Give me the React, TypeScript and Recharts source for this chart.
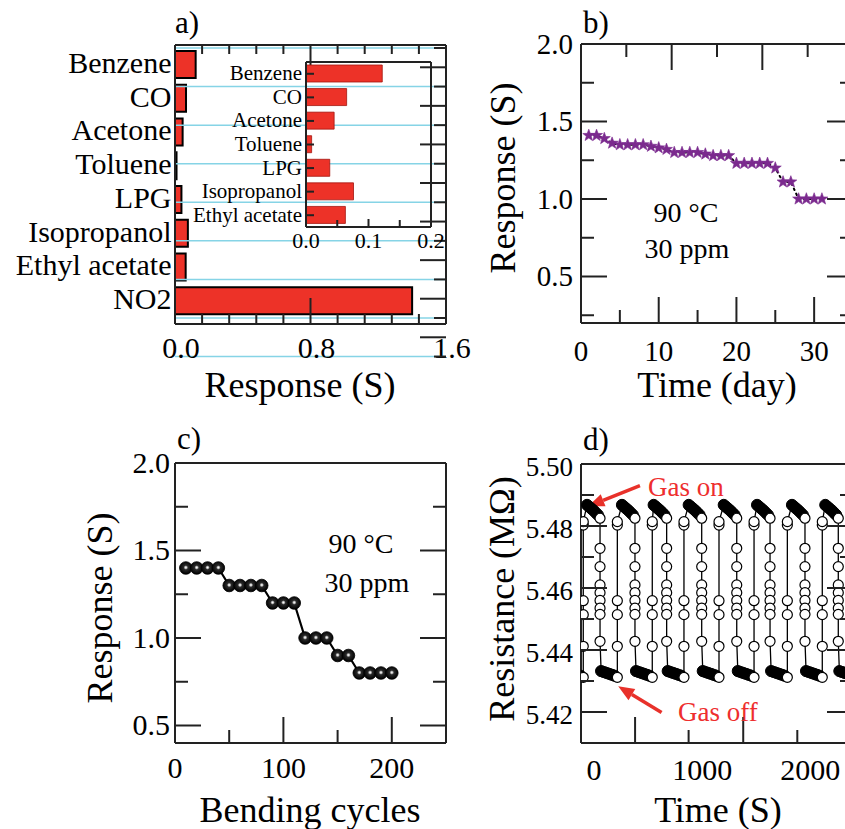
import React from 'react';
import {
  BarChart, Bar, LineChart, Line, ScatterChart, Scatter,
  XAxis, YAxis, ReferenceLine,
} from 'recharts';

const FONT = '"Liberation Serif", "Times New Roman", serif';
const FRAME = '#222';
const RED = '#ed3228';
const CYAN = '#86d4e6';
const PURPLE = '#7b2a8e';
const MAJOR = 26;
const MINOR = 13;

// a) selectivity at 90 C
const gases = ['Benzene', 'CO', 'Acetone', 'Toluene', 'LPG', 'Isopropanol', 'Ethyl acetate', 'NO2'];
const gasResponse = [0.122, 0.065, 0.045, 0.009, 0.038, 0.076, 0.063, 1.4];
const aTicks = [0, 0.16, 0.32, 0.48, 0.64, 0.8, 0.96, 1.12, 1.28, 1.44, 1.6];
const aMajor = [0, 0.8, 1.6];
const bandEdges = [0, 1, 2, 3, 4, 5, 6, 7, 8];
const bandTicks = [0, 0.5, 1, 1.5, 2, 2.5, 3, 3.5, 4, 4.5, 5, 5.5, 6, 6.5, 7, 7.5, 8];
const insetTicks = [0, 0.05, 0.1, 0.15, 0.2];
const insetLabels = [0, 0.1, 0.2];

// b) long-term stability
const days = [1, 2, 3, 4, 5, 6, 7, 8, 9, 10, 11, 12, 13, 14, 15, 16, 17, 18, 19, 20, 21, 22, 23, 24, 25, 26, 27, 28, 29, 30, 31];
const dayResponse = [1.41, 1.41, 1.39, 1.36, 1.35, 1.35, 1.35, 1.35, 1.34, 1.33, 1.32, 1.3, 1.3, 1.3, 1.3, 1.29, 1.28, 1.28, 1.28, 1.23, 1.23, 1.23, 1.23, 1.23, 1.2, 1.11, 1.11, 1.0, 1.0, 1.0, 1.0];
const bXTicks = [0, 5, 10, 15, 20, 25, 30, 35];
const bXMajor = [10, 20, 30];
const bXLabels = [0, 10, 20, 30];
const respTicks = [0.25, 0.5, 0.75, 1, 1.25, 1.5, 1.75, 2];
const respMajor = [0.5, 1, 1.5, 2];

// c) bending test
const bendCycles = [10, 20, 30, 40, 50, 60, 70, 80, 90, 100, 110, 120, 130, 140, 150, 160, 170, 180, 190, 200];
const bendResponse = [1.4, 1.4, 1.4, 1.4, 1.3, 1.3, 1.3, 1.3, 1.2, 1.2, 1.2, 1.0, 1.0, 1.0, 0.9, 0.9, 0.8, 0.8, 0.8, 0.8];
const cXTicks = [0, 50, 100, 150, 200, 250];
const cXMajor = [100, 200];
const cXLabels = [0, 100, 200];

// d) repeated gas on / off cycles (time of each cycle's switch, s)
const dCycleT = [-259, 56, 379, 672, 996, 1320, 1628, 1951, 2259];
const dTopDt = [-120, -100, -80, -60, -40, -20];
const dTopR = [5.4868, 5.4862, 5.4856, 5.485, 5.4843, 5.4836];
const dFallR = [5.4825, 5.4728, 5.4669, 5.461, 5.4585, 5.456, 5.4535, 5.4515, 5.4428];
const dBotDt = [10, 35, 60, 85, 110, 135];
const dBotR = [5.4332, 5.4329, 5.4326, 5.4323, 5.432, 5.4317];
const dRiseDt = 160;
const dRiseR = [5.4312, 5.4412, 5.4514, 5.4559, 5.4803, 5.4814];
const dXTicks = [0, 380, 875, 1000, 1380, 1880, 2000, 2380];
const dXMajor = [380, 1380, 2380];
const dXMinor = [875, 1880];
const dXLabels = [0, 1000, 2000];
const dYTicks = [5.42, 5.43, 5.44, 5.45, 5.46, 5.47, 5.48, 5.49, 5.5];
const dYMajor = [5.42, 5.44, 5.46, 5.48, 5.5];

const aData = gases.map((gas, i) => ({ gas, resp: gasResponse[i] }));
const insetData = aData.slice(0, 7);
const bData = days.map((day, i) => ({ day, s: dayResponse[i] }));
const cData = bendCycles.map((n, i) => ({ n, s: bendResponse[i] }));

type Pt = { t: number; r: number };
const dPath: Pt[] = [];
const dBlack: Pt[] = [];
const dWhite: Pt[] = [];
dCycleT.forEach((T) => {
  dTopDt.forEach((dt, i) => { const p = { t: T + dt, r: dTopR[i] }; dPath.push(p); dBlack.push(p); });
  dFallR.forEach((r) => { const p = { t: T, r }; dPath.push(p); dWhite.push(p); });
  dBotDt.forEach((dt, i) => { const p = { t: T + dt, r: dBotR[i] }; dPath.push(p); dBlack.push(p); });
  dRiseR.forEach((r) => { const p = { t: T + dRiseDt, r }; dPath.push(p); dWhite.push(p); });
});

const isIn = (list: number[], v: number) => list.some((u) => Math.abs(u - v) < 1e-6);
const except = (all: number[], drop: number[]) => all.filter((v) => !isIn(drop, v));
const lenOf = (major: number[], minor: number[], majLen = MAJOR, minLen = MINOR) => (v: number) =>
  isIn(major, v) ? majLen : isIn(minor, v) ? minLen : 0;
const fixed = (digits: number, list: number[]) => (v: number) => (isIn(list, v) ? v.toFixed(digits) : null);

interface TickCfg {
  side: 'bottom' | 'top' | 'left' | 'right';
  len?: (v: any) => number;
  label?: (v: any) => string | null;
  fontSize?: number;
  offset?: number;
  shift?: number;
}

// inward tick marks plus the label, like the original plotting program
const makeTick = (cfg: TickCfg) => (props: any) => {
  const { x, y, payload, index } = props;
  const v = payload?.value;
  const len = cfg.len ? cfg.len(v) : 0;
  const text = cfg.label ? cfg.label(v) : null;
  const fs = cfg.fontSize ?? 29;
  const off = cfg.offset ?? 0;
  const sh = cfg.shift ?? 0;
  let tick: React.ReactNode = null;
  let lab: React.ReactNode = null;
  const ts = { fontFamily: FONT, fontSize: fs, fill: '#000', stroke: 'none' };
  if (cfg.side === 'bottom') {
    if (len) tick = <line x1={x} x2={x} y1={y} y2={y - len} />;
    if (text != null) lab = <text x={x + sh} y={y + off} textAnchor="middle" {...ts}>{text}</text>;
  } else if (cfg.side === 'top') {
    if (len) tick = <line x1={x} x2={x} y1={y} y2={y + len} />;
  } else if (cfg.side === 'left') {
    if (len) tick = <line x1={x} x2={x + len} y1={y} y2={y} />;
    if (text != null) lab = <text x={x - off} y={y + sh} textAnchor="end" {...ts}>{text}</text>;
  } else {
    if (len) tick = <line x1={x} x2={x - len} y1={y} y2={y} />;
  }
  return (
    <g key={`t-${index}`} stroke={FRAME} strokeWidth={2}>
      {tick}
      {lab}
    </g>
  );
};

const frameLine = { stroke: FRAME, strokeWidth: 2 };
const axisBase = { tickSize: 0, tickMargin: 0, tickLine: false, interval: 0 as const, allowDataOverflow: true, axisLine: frameLine };

const StarDot = (p: any) => {
  const { cx, cy, index } = p;
  if (cx == null || cy == null) return <g key={`s-${index}`} />;
  const pts: string[] = [];
  for (let k = 0; k < 10; k++) {
    const rad = k % 2 === 0 ? 6.3 : 2.6;
    const a = -Math.PI / 2 + (k * Math.PI) / 5;
    pts.push(`${cx + rad * Math.cos(a)},${cy + rad * Math.sin(a)}`);
  }
  return <polygon key={`s-${index}`} points={pts.join(' ')} fill={PURPLE} stroke={PURPLE} strokeWidth={0.6} />;
};

const BallDot = (p: any) => {
  const { cx, cy, index } = p;
  if (cx == null || cy == null) return <g key={`b-${index}`} />;
  return <circle key={`b-${index}`} cx={cx} cy={cy} r={6.3} fill="url(#ballGrad)" stroke="#000" strokeWidth={0.8} />;
};

const BlackDot = (p: any) => <circle cx={p.cx} cy={p.cy} r={5.6} fill="#000" stroke="#000" strokeWidth={1} />;
const WhiteDot = (p: any) => <circle cx={p.cx} cy={p.cy} r={5} fill="#fff" stroke="#000" strokeWidth={1.2} />;
const NoDot = () => <g />;

const Arrow = (p: any) => {
  const { x1, y1, x2, y2 } = p;
  const ang = Math.atan2(y2 - y1, x2 - x1);
  const L = 16;
  const W = 6.5;
  const bx = x2 - L * Math.cos(ang);
  const by = y2 - L * Math.sin(ang);
  const px = -Math.sin(ang) * W;
  const py = Math.cos(ang) * W;
  return (
    <g>
      <line x1={x1} y1={y1} x2={bx} y2={by} stroke="#e8312a" strokeWidth={3.5} />
      <polygon points={`${x2},${y2} ${bx + px},${by + py} ${bx - px},${by - py}`} fill="#e8312a" />
    </g>
  );
};

function PanelA() {
  return (
    <BarChart layout="vertical" width={490} height={400} data={aData} margin={{ top: 44, right: 43, bottom: 75, left: 174 }}>
      <YAxis yAxisId="grid" type="number" domain={[0, 8]} allowDataOverflow hide padding={{ top: 3, bottom: 6 }} />
      {bandEdges.map((v) => (
        <ReferenceLine key={`g-${v}`} yAxisId="grid" y={v} stroke={CYAN} strokeWidth={1.5} ifOverflow="visible" />
      ))}
      <Bar yAxisId="cat" dataKey="resp" barSize={27} fill={RED} stroke="#000" strokeWidth={2} isAnimationActive={false} />
      <XAxis type="number" domain={[0, 1.6]} ticks={aTicks} height={1} {...axisBase}
        tick={makeTick({ side: 'bottom', len: lenOf(aMajor, except(aTicks, aMajor), MAJOR, 10), label: fixed(1, aMajor), fontSize: 30, offset: 34, shift: 6 })} />
      <XAxis xAxisId="top" orientation="top" type="number" domain={[0, 1.6]} ticks={aTicks} height={1} {...axisBase}
        tick={makeTick({ side: 'top', len: lenOf(aMajor, except(aTicks, aMajor), MAJOR, 9) })} />
      <YAxis yAxisId="cat" type="category" dataKey="gas" width={1} padding={{ top: 3, bottom: 6 }} {...axisBase}
        tick={makeTick({ side: 'left', label: (v) => String(v), fontSize: 30, offset: 3.5, shift: 8 })} />
      <YAxis yAxisId="right" orientation="right" type="number" domain={[0, 8]} ticks={bandTicks} width={1}
        padding={{ top: 3, bottom: 6 }} {...axisBase}
        tick={makeTick({ side: 'right', len: lenOf(except(bandTicks, bandEdges), bandEdges, MAJOR, 12) })} />
    </BarChart>
  );
}

function InsetA() {
  return (
    <BarChart layout="vertical" width={460} height={400} data={insetData} margin={{ top: 61, right: 28, bottom: 172, left: 305 }}>
      <Bar yAxisId="cat" dataKey="resp" barSize={17} fill={RED} stroke="#a3140e" strokeWidth={0.8} isAnimationActive={false} />
      <XAxis type="number" domain={[0, 0.2]} ticks={insetTicks} height={1} {...axisBase}
        tick={makeTick({ side: 'bottom', len: lenOf([0.1], [0.05, 0.15], 8, 7), label: fixed(1, insetLabels), fontSize: 22, offset: 21 })} />
      <XAxis xAxisId="top" orientation="top" type="number" domain={[0, 0.2]} ticks={insetTicks} height={1} {...axisBase}
        tick={makeTick({ side: 'top' })} />
      <YAxis yAxisId="cat" type="category" dataKey="gas" width={1} {...axisBase}
        tick={makeTick({ side: 'left', len: () => 8, label: (v) => String(v), fontSize: 21, offset: 4, shift: 6.5 })} />
      <YAxis yAxisId="right" orientation="right" type="number" domain={[0, 1]} ticks={[0, 1]} width={1} {...axisBase}
        tick={makeTick({ side: 'right' })} />
    </BarChart>
  );
}

function PanelB() {
  return (
    <LineChart width={420} height={400} data={bData} margin={{ top: 43, right: 26, bottom: 76, left: 120 }}>
      <XAxis dataKey="day" type="number" domain={[0, 35]} ticks={bXTicks} height={1} {...axisBase}
        tick={makeTick({ side: 'bottom', len: lenOf(bXMajor, except(bXTicks, bXMajor)), label: fixed(0, bXLabels), fontSize: 29, offset: 38 })} />
      <XAxis xAxisId="top" orientation="top" type="number" domain={[0, 35]} ticks={bXTicks} height={1} {...axisBase}
        tick={makeTick({ side: 'top', len: lenOf(bXMajor, except(bXTicks, bXMajor)) })} />
      <YAxis type="number" domain={[0.2, 2]} ticks={respTicks} width={1} {...axisBase}
        tick={makeTick({ side: 'left', len: lenOf(respMajor, except(respTicks, respMajor)), label: fixed(1, respMajor), fontSize: 29, offset: 8, shift: 9.5 })} />
      <YAxis yAxisId="right" orientation="right" type="number" domain={[0.2, 2]} ticks={respTicks} width={1} {...axisBase}
        tick={makeTick({ side: 'right', len: lenOf(respMajor, except(respTicks, respMajor)) })} />
      <Line type="linear" dataKey="s" stroke="#000" strokeWidth={2} strokeDasharray="1.5 4" strokeLinecap="round"
        dot={StarDot} activeDot={false} isAnimationActive={false} />
    </LineChart>
  );
}

function PanelC() {
  return (
    <LineChart width={460} height={409} data={cData} margin={{ top: 42, right: 13, bottom: 85, left: 174 }}>
      <XAxis dataKey="n" type="number" domain={[0, 250]} ticks={cXTicks} height={1} {...axisBase}
        tick={makeTick({ side: 'bottom', len: lenOf(cXMajor, except(cXTicks, cXMajor)), label: fixed(0, cXLabels), fontSize: 30, offset: 35 })} />
      <XAxis xAxisId="top" orientation="top" type="number" domain={[0, 250]} ticks={cXTicks} height={1} {...axisBase}
        tick={makeTick({ side: 'top', len: lenOf(cXMajor, except(cXTicks, cXMajor)) })} />
      <YAxis type="number" domain={[0.4, 2]} ticks={respTicks.slice(1)} width={1} {...axisBase}
        tick={makeTick({ side: 'left', len: lenOf(respMajor, except(respTicks, respMajor)), label: fixed(1, respMajor), fontSize: 30, offset: 5, shift: 9.5 })} />
      <YAxis yAxisId="right" orientation="right" type="number" domain={[0.4, 2]} ticks={respTicks.slice(1)} width={1} {...axisBase}
        tick={makeTick({ side: 'right', len: lenOf(respMajor, except(respTicks, respMajor)) })} />
      <Line type="linear" dataKey="s" stroke="#000" strokeWidth={2.2} dot={BallDot} activeDot={false} isAnimationActive={false} />
    </LineChart>
  );
}

function PanelD() {
  return (
    <ScatterChart width={420} height={409} margin={{ top: 43, right: 26, bottom: 85, left: 120 }}>
      <XAxis dataKey="t" type="number" domain={[-120, 2395]} ticks={dXTicks} height={1} {...axisBase}
        tick={makeTick({ side: 'bottom', len: lenOf(dXMajor, dXMinor), label: fixed(0, dXLabels), fontSize: 30, offset: 37 })} />
      <XAxis xAxisId="top" orientation="top" type="number" domain={[-120, 2395]} ticks={dXTicks} height={1} {...axisBase}
        tick={makeTick({ side: 'top', len: lenOf(dXMajor, dXMinor) })} />
      <YAxis dataKey="r" type="number" domain={[5.41, 5.5]} ticks={dYTicks} width={1} {...axisBase}
        tick={makeTick({ side: 'left', len: lenOf(dYMajor, except(dYTicks, dYMajor)), label: fixed(2, dYMajor), fontSize: 27, offset: 8, shift: 12 })} />
      <YAxis yAxisId="right" orientation="right" type="number" domain={[5.41, 5.5]} ticks={dYTicks} width={1} {...axisBase}
        tick={makeTick({ side: 'right', len: lenOf(dYMajor, except(dYTicks, dYMajor)) })} />
      <Scatter data={dPath} line={{ stroke: '#000', strokeWidth: 1.3 }} shape={NoDot} isAnimationActive={false} />
      <Scatter data={dBlack} shape={BlackDot} isAnimationActive={false} />
      <Scatter data={dWhite} shape={WhiteDot} isAnimationActive={false} />
      <ReferenceLine segment={[{ x: 425, y: 5.493 }, { x: -53, y: 5.4864 }]} shape={Arrow} />
      <ReferenceLine segment={[{ x: 625, y: 5.4198 }, { x: 224, y: 5.4283 }]} shape={Arrow} />
    </ScatterChart>
  );
}

const T = (p: { x: number; y: number; size: number; anchor?: 'start' | 'middle' | 'end'; rot?: boolean; fill?: string; children: React.ReactNode }) => (
  <text
    x={p.rot ? 0 : p.x}
    y={p.rot ? 0 : p.y}
    transform={p.rot ? `translate(${p.x},${p.y}) rotate(-90)` : undefined}
    textAnchor={p.anchor ?? 'middle'}
    fontFamily={FONT}
    fontSize={p.size}
    fill={p.fill ?? '#000'}
  >
    {p.children}
  </text>
);

export default function App() {
  return (
    <div style={{ position: 'absolute', left: 0, top: 0, width: 845, height: 829, overflow: 'hidden', background: '#fff' }}>
      <div style={{ position: 'absolute', left: 0, top: 0 }}><PanelA /></div>
      <div style={{ position: 'absolute', left: 0, top: 0 }}><InsetA /></div>
      <div style={{ position: 'absolute', left: 460, top: 0 }}><PanelB /></div>
      <div style={{ position: 'absolute', left: 0, top: 420 }}><PanelC /></div>
      <div style={{ position: 'absolute', left: 460, top: 420 }}><PanelD /></div>
      <svg width={845} height={829} style={{ position: 'absolute', left: 0, top: 0, pointerEvents: 'none' }}>
        <defs>
          <radialGradient id="ballGrad" cx="50%" cy="46%" r="52%">
            <stop offset="0%" stopColor="#ffffff" />
            <stop offset="14%" stopColor="#d0d0d0" />
            <stop offset="34%" stopColor="#2a2a2a" />
            <stop offset="100%" stopColor="#000" />
          </radialGradient>
        </defs>
        <T x={175} y={33} size={31} anchor="start">a)</T>
        <T x={583} y={33} size={31} anchor="start">b)</T>
        <T x={177} y={449} size={31} anchor="start">c)</T>
        <T x={583} y={450} size={31} anchor="start">d)</T>
        <T x={300} y={397} size={36}>Response (S)</T>
        <T x={717} y={397} size={36}>Time (day)</T>
        <T x={515} y={178} size={36} rot>Response (S)</T>
        <T x={112} y={608} size={36} rot>Response (S)</T>
        <T x={310} y={822} size={36}>Bending cycles</T>
        <T x={514} y={599} size={36} rot>Resistance (MΩ)</T>
        <T x={718} y={822} size={36}>Time (S)</T>
        <T x={686} y={222} size={28}>90 °C</T>
        <T x={687} y={258} size={28}>30 ppm</T>
        <T x={361} y={553} size={28}>90 °C</T>
        <T x={367} y={592} size={28}>30 ppm</T>
        <T x={648} y={496} size={27} anchor="start" fill="#ee2e2e">Gas on</T>
        <T x={678} y={721} size={27} anchor="start" fill="#ee2e2e">Gas off</T>
      </svg>
    </div>
  );
}
